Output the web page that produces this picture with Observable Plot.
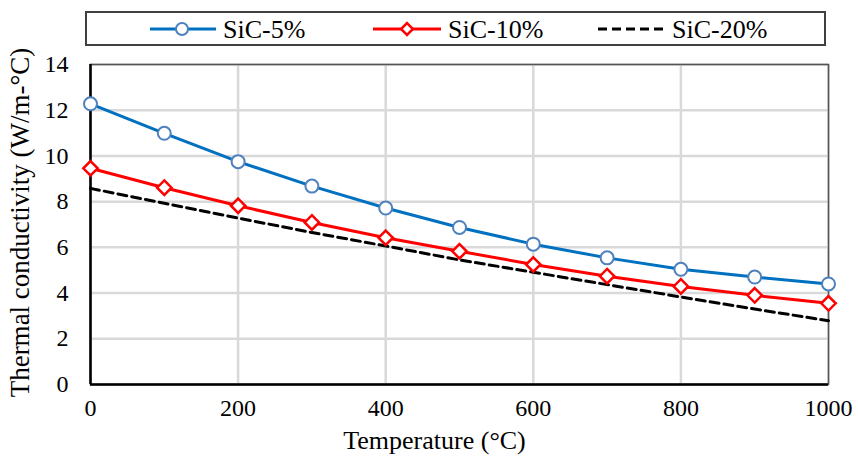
<!DOCTYPE html>
<html>
<head>
<meta charset="utf-8">
<script src="https://cdn.jsdelivr.net/npm/d3@7"></script>
<script src="https://cdn.jsdelivr.net/npm/@observablehq/plot@0.6"></script>
<style>
  html, body { margin: 0; padding: 0; background: #fff; }
  #chart { width: 858px; }
  #chart svg { display: block; }
</style>
</head>
<body>
<div id="chart"></div>
<script>
// Temperature (°C) and thermal conductivity (W/m-°C) for each SiC fraction
const temperature = [0, 100, 200, 300, 400, 500, 600, 700, 800, 900, 1000];
const sic5  = [12.28, 10.99, 9.75, 8.68, 7.72, 6.87, 6.14, 5.54, 5.04, 4.70, 4.40];
const sic10 = [9.46, 8.61, 7.82, 7.09, 6.42, 5.83, 5.25, 4.74, 4.29, 3.90, 3.55];
const sic20 = [8.58, 7.93, 7.28, 6.65, 6.06, 5.45, 4.91, 4.37, 3.83, 3.30, 2.79];

const seriesNames = ["SiC-5%", "SiC-10%", "SiC-20%"];
const xTicks = [0, 200, 400, 600, 800, 1000];
const yTicks = [0, 2, 4, 6, 8, 10, 12, 14];
const xTitle = "Temperature (°C)";
const yTitle = "Thermal conductivity (W/m-°C)";

const blueLine = "#0070C0", blueMark = "#4F81BD", red = "#FF0000", black = "#000000";
const serif = "'Liberation Serif', 'Times New Roman', serif";

const rows5  = temperature.map((t, i) => ({t, k: sic5[i]}));
const rows10 = temperature.map((t, i) => ({t, k: sic10[i]}));
const rows20 = temperature.map((t, i) => ({t, k: sic20[i]}));

// Legend strip above the plot
const leg = d3.create("svg").attr("width", 858).attr("height", 47);
leg.append("rect").attr("x", 86).attr("y", 12).attr("width", 739).attr("height", 33)
  .attr("fill", "white").attr("stroke", "#404040").attr("stroke-width", 2);
const ly = 29;
// SiC-5%
leg.append("line").attr("x1", 150).attr("x2", 216).attr("y1", ly).attr("y2", ly)
  .attr("stroke", blueLine).attr("stroke-width", 3);
leg.append("circle").attr("cx", 182).attr("cy", ly).attr("r", 6)
  .attr("fill", "white").attr("stroke", blueMark).attr("stroke-width", 2);
// SiC-10%
leg.append("line").attr("x1", 373).attr("x2", 441).attr("y1", ly).attr("y2", ly)
  .attr("stroke", red).attr("stroke-width", 3);
leg.append("path").attr("d", d3.symbol(d3.symbolDiamond2, 90)())
  .attr("transform", `translate(407,${ly})`)
  .attr("fill", "white").attr("stroke", red).attr("stroke-width", 2.5);
// SiC-20%
leg.append("line").attr("x1", 598).attr("x2", 664).attr("y1", ly).attr("y2", ly)
  .attr("stroke", black).attr("stroke-width", 3).attr("stroke-dasharray", "9,5");
const labelX = [223, 448, 672];
seriesNames.forEach((name, i) => {
  leg.append("text").attr("x", labelX[i]).attr("y", ly).attr("dy", "0.35em")
    .style("font-family", serif).attr("font-size", 26).attr("fill", "#000").text(name);
});
document.getElementById("chart").append(leg.node());

const fmt = d => String(d);

const plot = Plot.plot({
  width: 858,
  height: 412,
  marginTop: 17,
  marginBottom: 75,
  marginLeft: 90,
  marginRight: 30,
  style: {fontFamily: serif, fontSize: "24px", color: "#000", background: "white"},
  x: {domain: [0, 1000], label: null},
  y: {domain: [0, 14], label: null},
  marks: [
    Plot.gridX(xTicks, {stroke: "#d9d9d9", strokeOpacity: 1, strokeWidth: 2.5}),
    Plot.gridY(yTicks, {stroke: "#d9d9d9", strokeOpacity: 1, strokeWidth: 2.5}),
    Plot.frame({stroke: "#555", strokeWidth: 1.5}),
    Plot.ruleX([0], {stroke: black, strokeWidth: 2.5}),
    Plot.ruleY([0], {stroke: black, strokeWidth: 2.5}),
    Plot.axisX({ticks: xTicks, tickSize: 0, tickPadding: 14, tickFormat: fmt, label: null,
      fontFamily: serif, fontSize: 24, fill: "#000"}),
    Plot.axisY({ticks: yTicks, tickSize: 0, tickPadding: 22, tickFormat: fmt, label: null,
      fontFamily: serif, fontSize: 24, fill: "#000"}),
    Plot.line(rows20, {x: "t", y: "k", stroke: black, strokeWidth: 3, strokeDasharray: "9,5"}),
    Plot.line(rows10, {x: "t", y: "k", stroke: red, strokeWidth: 3}),
    Plot.dot(rows10, {x: "t", y: "k", symbol: "diamond2", r: 6.5, fill: "white", stroke: red, strokeWidth: 2.5}),
    Plot.line(rows5, {x: "t", y: "k", stroke: blueLine, strokeWidth: 3}),
    Plot.dot(rows5, {x: "t", y: "k", symbol: "circle", r: 6.5, fill: "white", stroke: blueMark, strokeWidth: 2}),
    Plot.text([xTitle], {frameAnchor: "bottom", dx: -25, dy: 56, textAnchor: "middle", lineAnchor: "middle",
      fontFamily: serif, fontSize: 26, fill: "#000"}),
    Plot.text([yTitle], {frameAnchor: "left", dx: -70, dy: -2, rotate: -90, textAnchor: "middle", lineAnchor: "middle",
      fontFamily: serif, fontSize: 27, fill: "#000"})
  ]
});
document.getElementById("chart").append(plot);
</script>
</body>
</html>
